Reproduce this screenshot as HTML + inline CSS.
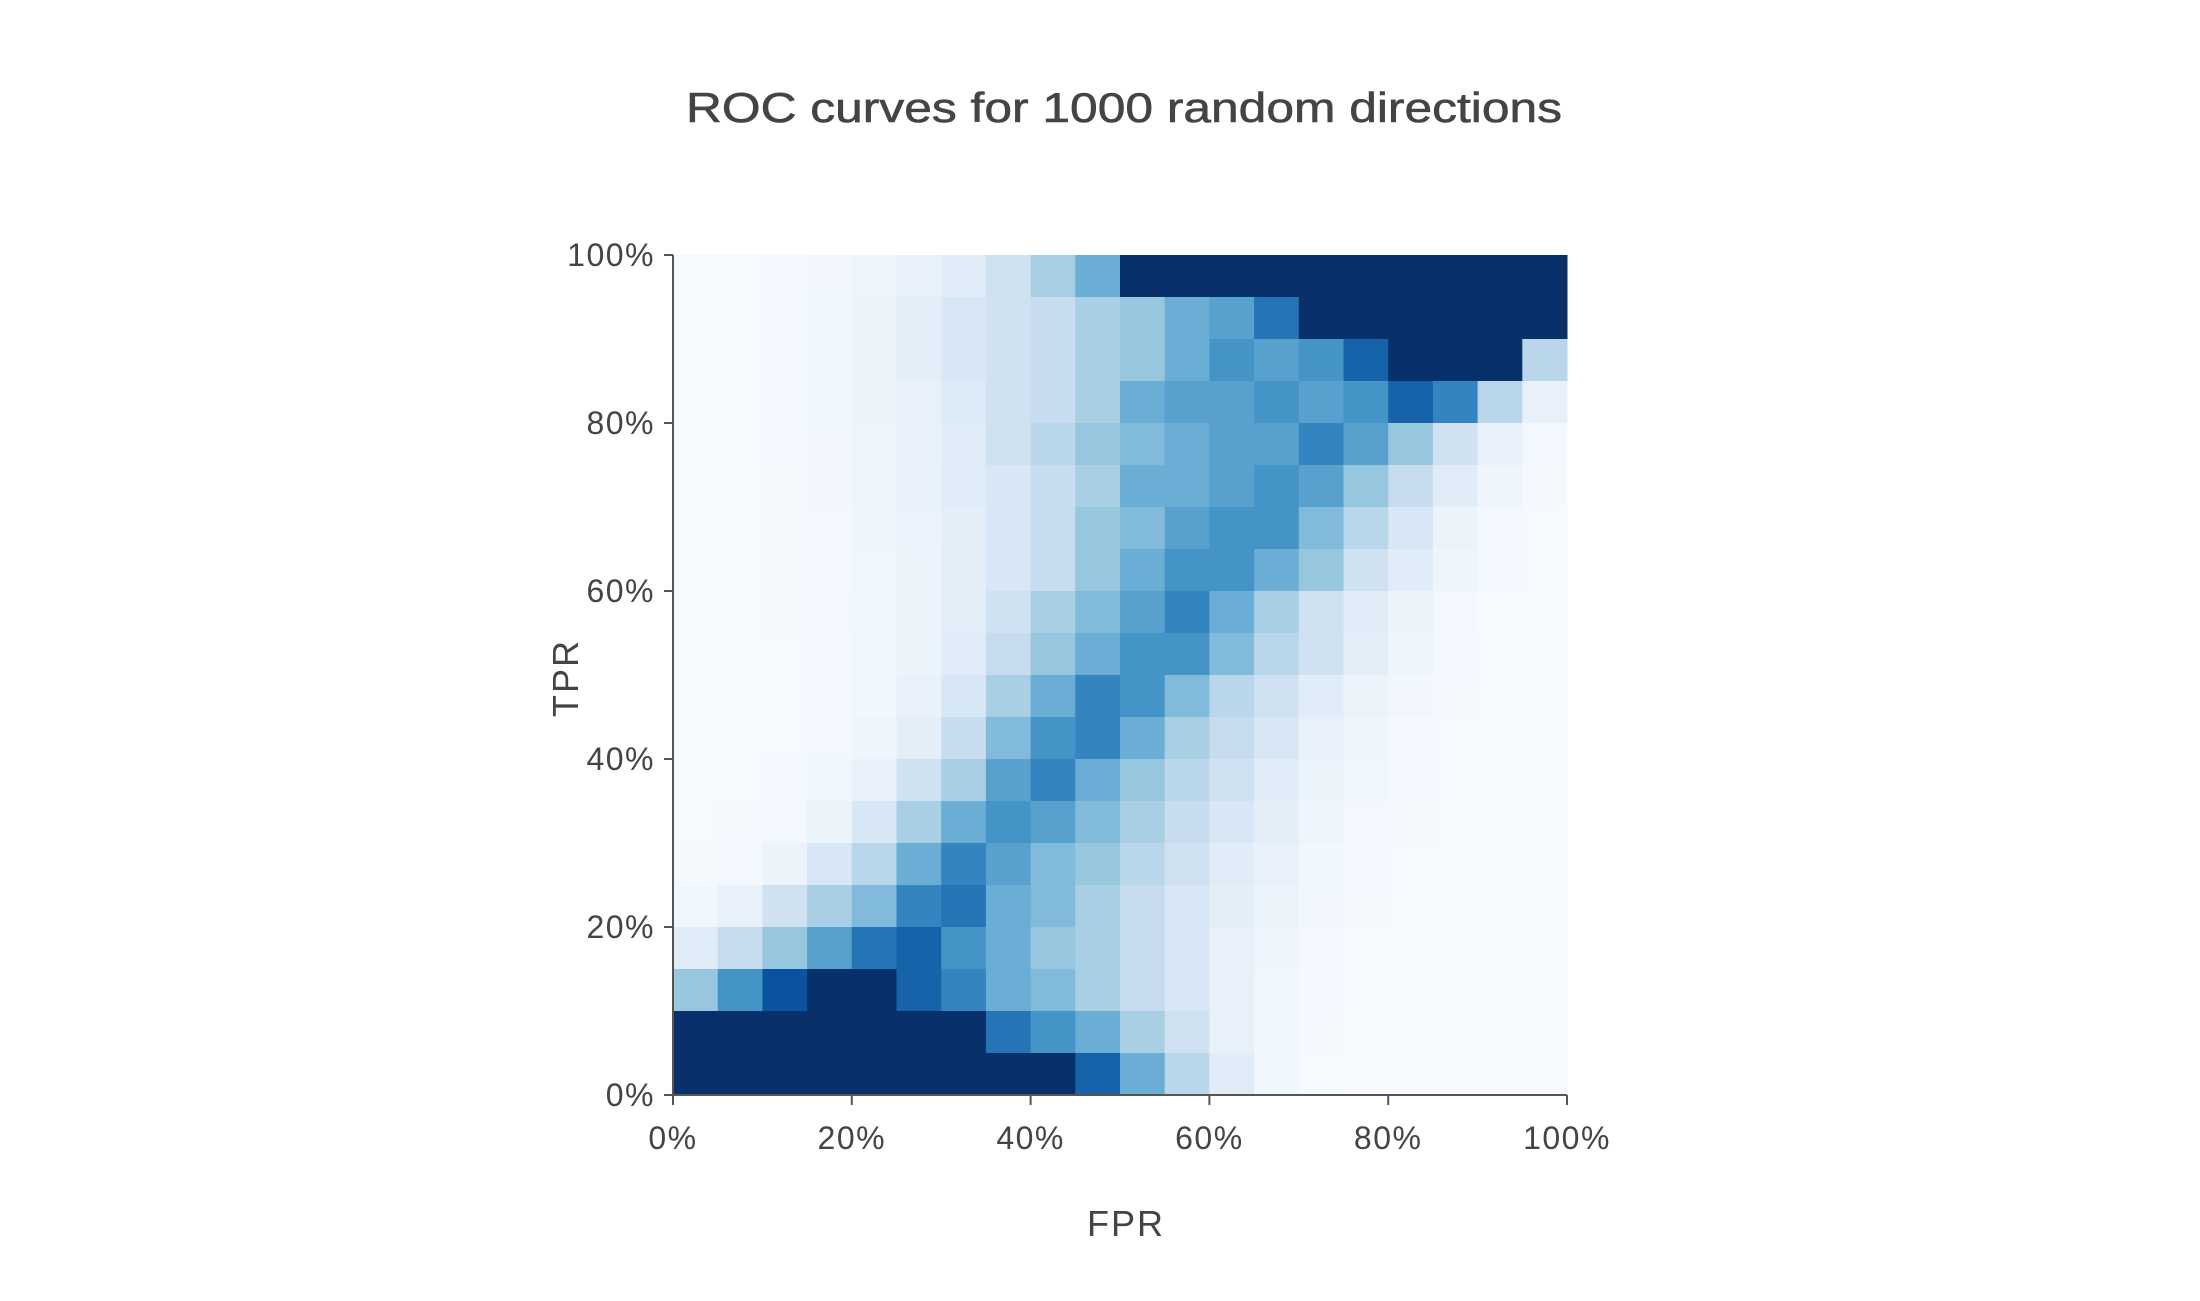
<!DOCTYPE html>
<html><head><meta charset="utf-8"><style>
html,body{margin:0;padding:0;background:#fff;}
svg{display:block;font-family:"Liberation Sans",sans-serif;}
</style></head><body>
<svg id="chart" width="2200" height="1301" viewBox="0 0 2200 1301" xmlns="http://www.w3.org/2000/svg">
<rect width="2200" height="1301" fill="#fff"/>
<text x="1124" y="122" text-anchor="middle" font-size="42" fill="#444" stroke="#444" stroke-width="0.6" textLength="876" lengthAdjust="spacingAndGlyphs">ROC curves for 1000 random directions</text>
<g id="cells"></g>
<g id="axes"></g>
<text transform="translate(578,678) rotate(-90)" text-anchor="middle" font-size="36" fill="#444" letter-spacing="2">TPR</text>
<text x="1126" y="1236" text-anchor="middle" font-size="36" fill="#444" letter-spacing="2">FPR</text>
</svg>
<script>
const xTicks = [0, 20, 40, 60, 80, 100];
const yTicks = [0, 20, 40, 60, 80, 100];
const tickLabels = ["0%", "20%", "40%", "60%", "80%", "100%"];
// rows from TPR 100% (top) down to 0%, columns FPR 0% -> 100%
const density = [
[0.02,0.03,0.05,0.07,0.1,0.15,0.2,0.3,0.45,0.6,0.95,1,1,1,1,1,1,1,1,1],
[0.02,0.03,0.05,0.08,0.12,0.18,0.25,0.3,0.35,0.45,0.5,0.6,0.65,0.8,1,1,1,1,1,1],
[0.02,0.03,0.05,0.08,0.12,0.18,0.25,0.3,0.35,0.45,0.5,0.6,0.7,0.65,0.7,0.85,0.95,1,0.95,0.4],
[0.02,0.03,0.05,0.08,0.12,0.15,0.22,0.3,0.35,0.45,0.6,0.65,0.65,0.7,0.65,0.7,0.85,0.75,0.4,0.15],
[0.02,0.03,0.05,0.07,0.1,0.15,0.2,0.3,0.4,0.5,0.55,0.6,0.65,0.65,0.75,0.65,0.5,0.3,0.15,0.06],
[0.02,0.03,0.04,0.07,0.1,0.14,0.2,0.25,0.35,0.45,0.6,0.6,0.65,0.7,0.65,0.5,0.35,0.2,0.1,0.04],
[0.02,0.03,0.04,0.06,0.1,0.13,0.18,0.25,0.35,0.5,0.55,0.65,0.7,0.7,0.55,0.4,0.25,0.12,0.06,0.03],
[0.02,0.02,0.04,0.06,0.09,0.12,0.18,0.25,0.35,0.5,0.6,0.7,0.7,0.6,0.5,0.3,0.2,0.1,0.05,0.02],
[0.02,0.02,0.04,0.06,0.08,0.12,0.18,0.3,0.45,0.55,0.65,0.75,0.6,0.45,0.3,0.2,0.12,0.06,0.03,0.02],
[0.02,0.02,0.03,0.05,0.08,0.12,0.2,0.35,0.5,0.6,0.7,0.7,0.55,0.4,0.3,0.18,0.1,0.05,0.03,0.02],
[0.02,0.02,0.03,0.05,0.08,0.14,0.25,0.45,0.6,0.75,0.7,0.55,0.4,0.3,0.2,0.12,0.07,0.04,0.02,0.01],
[0.02,0.02,0.03,0.06,0.1,0.18,0.35,0.55,0.7,0.75,0.6,0.45,0.35,0.25,0.15,0.1,0.05,0.03,0.02,0.01],
[0.02,0.03,0.05,0.08,0.15,0.3,0.45,0.65,0.75,0.6,0.5,0.4,0.3,0.2,0.12,0.08,0.05,0.03,0.02,0.01],
[0.03,0.04,0.06,0.12,0.25,0.45,0.6,0.7,0.65,0.55,0.45,0.35,0.25,0.18,0.1,0.06,0.04,0.02,0.01,0.01],
[0.04,0.06,0.12,0.25,0.4,0.6,0.75,0.65,0.55,0.5,0.4,0.3,0.2,0.14,0.08,0.05,0.03,0.02,0.01,0.01],
[0.08,0.15,0.3,0.45,0.55,0.75,0.8,0.6,0.55,0.45,0.35,0.25,0.18,0.12,0.07,0.04,0.02,0.01,0.01,0.01],
[0.2,0.35,0.5,0.65,0.8,0.85,0.7,0.6,0.5,0.45,0.35,0.25,0.15,0.1,0.06,0.03,0.02,0.01,0.01,0.01],
[0.5,0.7,0.9,0.95,0.95,0.85,0.75,0.6,0.55,0.45,0.35,0.25,0.15,0.08,0.05,0.03,0.02,0.01,0.01,0.01],
[1,1,1,1,1,1,0.95,0.8,0.7,0.6,0.45,0.3,0.15,0.08,0.04,0.02,0.01,0.01,0.01,0.01],
[1,1,1,1,1,1,1,1,0.95,0.85,0.6,0.4,0.2,0.08,0.03,0.02,0.01,0.01,0.01,0.01]
];

const NS = "http://www.w3.org/2000/svg";
const L = 673, R = 1567, T = 255, B = 1095;
function xScale(p){ return L + (R - L) * p / 100; }
function yScale(p){ return B - (B - T) * p / 100; }
const stops = ["#f7fbff","#deebf7","#c6dbef","#9ecae1","#6baed6","#4292c6","#2171b5","#08519c","#08306b"];
function hex(c){ return [1,3,5].map(i=>parseInt(c.substr(i,2),16)); }
function color(v){
  v = Math.max(0, Math.min(1, v));
  v = v >= 0.94 ? 1 : Math.pow(v, 1.35);
  const t = v * (stops.length - 1), i = Math.min(stops.length - 2, Math.floor(t)), f = t - i;
  const a = hex(stops[i]), b = hex(stops[i+1]);
  return "rgb(" + a.map((x,k)=>Math.round(x + (b[k]-x)*f)).join(",") + ")";
}
const cells = document.getElementById("cells");
const nRows = density.length;
density.forEach((row, r) => {
  const nCols = row.length;
  row.forEach((v, c) => {
    const x0 = xScale(100 * c / nCols), x1 = xScale(100 * (c + 1) / nCols);
    const yTop = yScale(100 * (nRows - r) / nRows), yBot = yScale(100 * (nRows - r - 1) / nRows);
    const el = document.createElementNS(NS, "rect");
    
    
    el.setAttribute("x", x0); el.setAttribute("y", yTop);
    el.setAttribute("width", x1 - x0 + 0.5); el.setAttribute("height", yBot - yTop + 0.5);
    el.setAttribute("fill", color(v));
    cells.appendChild(el);
  });
});
const axes = document.getElementById("axes");
function line(x1,y1,x2,y2,name){
  const el = document.createElementNS(NS, "line");
  
  
  el.setAttribute("x1",x1);el.setAttribute("y1",y1);el.setAttribute("x2",x2);el.setAttribute("y2",y2);
  el.setAttribute("stroke","#555");el.setAttribute("stroke-width","2");
  axes.appendChild(el);
}
function label(x,y,txt,anchor,name){
  const el = document.createElementNS(NS, "text");
  
  
  el.setAttribute("x",x);el.setAttribute("y",y);el.setAttribute("text-anchor",anchor);
  el.setAttribute("font-size","32");el.setAttribute("fill","#444");el.setAttribute("letter-spacing","1.5");
  el.textContent = txt;
  axes.appendChild(el);
}
line(L, T, L, B, "y-axis-line");
line(L, B, R, B, "x-axis-line");
yTicks.forEach((t,i)=>{
  line(L-9, yScale(t), L, yScale(t), "y-tick");
  label(L-18, yScale(t)+11, tickLabels[i], "end", "y-tick-label");
});
xTicks.forEach((t,i)=>{
  line(xScale(t), B, xScale(t), B+10, "x-tick");
  label(xScale(t), B+54, tickLabels[i], "middle", "x-tick-label");
});
</script>
</body></html>
